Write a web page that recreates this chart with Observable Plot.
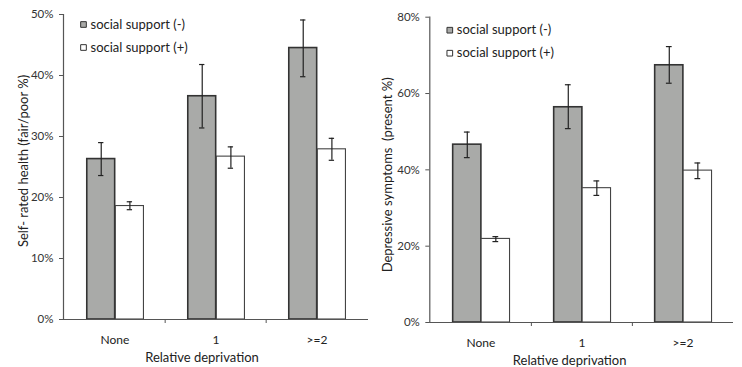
<!DOCTYPE html>
<html><head><meta charset="utf-8">
<script src="https://cdn.jsdelivr.net/npm/d3@7"></script>
<script src="https://cdn.jsdelivr.net/npm/@observablehq/plot@0.6"></script>
<style>
body{margin:0;background:#fff}
#wrap{display:flex;width:742px;height:367px;overflow:hidden}
#wrap svg{display:block}
</style>
</head><body><div id="wrap"></div>
<script>
const categories = ["None", "1", ">=2"];
const series = ["social support (-)", "social support (+)"];

// Left panel: self-rated health (fair/poor %)
const healthNeg   = [26.3, 36.6, 44.5];
const healthNegLo = [23.6, 31.4, 39.8];
const healthNegHi = [29.0, 41.8, 49.1];
const healthPos   = [18.6, 26.7, 27.9];
const healthPosLo = [18.0, 24.8, 26.1];
const healthPosHi = [19.3, 28.3, 29.7];
const healthTicks = [0, 10, 20, 30, 40, 50];

// Right panel: depressive symptoms (present %)
const deprNeg   = [46.6, 56.4, 67.4];
const deprNegLo = [43.2, 50.8, 62.7];
const deprNegHi = [49.9, 62.3, 72.3];
const deprPos   = [21.9, 35.2, 39.8];
const deprPosLo = [21.2, 33.3, 37.7];
const deprPosHi = [22.5, 37.1, 41.8];
const deprTicks = [0, 20, 40, 60, 80];

const xLabel = "Relative deprivation";
const FONT = "Lato, 'Open Sans', sans-serif";

function rows(neg, negLo, negHi, pos, posLo, posHi) {
  const out = [];
  categories.forEach((c, i) => {
    out.push({cat: c, s: 0, value: neg[i], lo: negLo[i], hi: negHi[i]});
    out.push({cat: c, s: 1, value: pos[i], lo: posLo[i], hi: posHi[i]});
  });
  return out;
}

function chart(o) {
  const data = rows(...o.values);
  const step = (o.width - o.ml - o.mr) / categories.length;
  const fa = 0.224, fb = 0.505, fc = 0.788;
  const g = data.filter(d => d.s === 0), w = data.filter(d => d.s === 1);
  const cg = (fa + fb) / 2 * step, cw = (fb + fc) / 2 * step;
  const cap = 3;
  const legend = series.map((name, i) => ({name, i}));
  const eb = {stroke: "#222", strokeWidth: 1.2};
  return Plot.plot({
    width: o.width, height: 367,
    marginLeft: o.ml, marginRight: o.mr, marginTop: o.mt, marginBottom: o.mb,
    style: {fontFamily: FONT, fontSize: "12px", color: "#222", background: "#fff"},
    x: {domain: categories, padding: 0, axis: null},
    y: {domain: [0, o.ymax], axis: null},
    marks: [
      Plot.barY(g, {x: "cat", y: "value", fill: "#a9aaa8", stroke: "#333", strokeWidth: 1.6,
        insetLeft: fa * step, insetRight: (1 - fb) * step}),
      Plot.barY(w, {x: "cat", y: "value", fill: "#fff", stroke: "#444", strokeWidth: 1.1,
        insetLeft: fb * step, insetRight: (1 - fc) * step}),
      Plot.ruleX(g, {x: "cat", y1: "lo", y2: "hi", dx: cg - step / 2, ...eb}),
      Plot.ruleX(w, {x: "cat", y1: "lo", y2: "hi", dx: cw - step / 2, ...eb}),
      Plot.tickY(g, {x: "cat", y: "lo", insetLeft: cg - cap, insetRight: step - cg - cap, ...eb}),
      Plot.tickY(g, {x: "cat", y: "hi", insetLeft: cg - cap, insetRight: step - cg - cap, ...eb}),
      Plot.tickY(w, {x: "cat", y: "lo", insetLeft: cw - cap, insetRight: step - cw - cap, ...eb}),
      Plot.tickY(w, {x: "cat", y: "hi", insetLeft: cw - cap, insetRight: step - cw - cap, ...eb}),
      Plot.ruleY([0], {stroke: "#555", strokeWidth: 1.2}),
      Plot.frame({anchor: "left", stroke: "#555", strokeWidth: 1.2}),
      Plot.ruleX(categories.slice(1), {x: d => d, dx: -step / 2, y1: 0, y2: 0, insetTop: 4, stroke: "#555"}),
      Plot.axisY({ticks: o.ticks, tickFormat: d => d + "%", tickSize: 4, tickPadding: 6, label: null,
        fontSize: 11.5, fill: "#333", stroke: "#555"}),
      Plot.axisX({tickSize: 0, tickPadding: 16, label: null, fontSize: 12, fill: "#222"}),
      Plot.text([o.ylabel], {frameAnchor: "left", textAnchor: "middle", lineAnchor: "middle",
        rotate: -90, dx: o.ylx, dy: o.yly, fontSize: 13, fill: "#222"}),
      Plot.text([xLabel], {frameAnchor: "bottom", textAnchor: "middle", lineAnchor: "middle",
        dx: o.xlx, dy: 38, fontSize: 13, fill: "#222"}),
      ...legend.map(d => Plot.dot([d], {frameAnchor: "top-left", dx: 20, dy: o.legY + d.i * 23, symbol: "square", r: 3.2,
        fill: d.i === 0 ? "#a9aaa8" : "#fff", stroke: "#333", strokeWidth: 1})),
      ...legend.map(d => Plot.text([d.name], {frameAnchor: "top-left", dx: 27, dy: o.legY + d.i * 23,
        textAnchor: "start", lineAnchor: "middle", fontSize: 13, fill: "#222"}))
    ]
  });
}

const wrap = document.getElementById("wrap");
wrap.append(chart({
  width: 370, ml: 63, mr: 2, mt: 14, mb: 48, ymax: 50, ticks: healthTicks,
  values: [healthNeg, healthNegLo, healthNegHi, healthPos, healthPosLo, healthPosHi],
  ylabel: "Self- rated health (fair/poor %)", ylx: -40, yly: -6, xlx: -14, legY: 10
}));
wrap.append(chart({
  width: 372, ml: 59.3, mr: 9, mt: 16.7, mb: 45, ymax: 80, ticks: deprTicks,
  values: [deprNeg, deprNegLo, deprNegHi, deprPos, deprPosLo, deprPosHi],
  ylabel: "Depressive symptoms\u00a0 (present %)", ylx: -42, yly: 5, xlx: -12, legY: 13
}));
</script>
</body></html>
